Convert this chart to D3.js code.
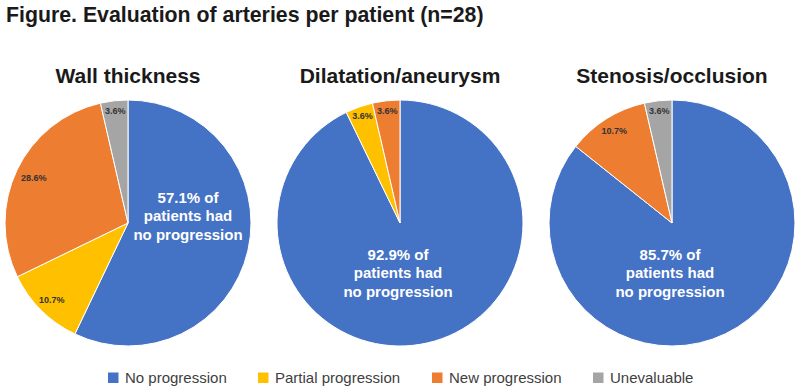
<!DOCTYPE html>
<html><head><meta charset="utf-8">
<script src="https://cdn.jsdelivr.net/npm/d3@7"></script>
<style>body{margin:0;background:#fff}svg{display:block}</style>
</head><body>
<script>
const categories = ["No progression", "Partial progression", "New progression", "Unevaluable"];
const colors = ["#4472C4", "#FFC000", "#ED7D31", "#A5A5A5"];
const panelTitles = ["Wall thickness", "Dilatation/aneurysm", "Stenosis/occlusion"];
const wallThickness = [57.1, 10.7, 28.6, 3.6];
const dilatation = [92.9, 3.6, 3.6, 0];
const stenosis = [85.7, 0, 10.7, 3.6];
const seriesValues = [wallThickness, dilatation, stenosis];
const centerLabels = [
  ["57.1% of", "patients had", "no progression"],
  ["92.9% of", "patients had", "no progression"],
  ["85.7% of", "patients had", "no progression"]
];

const W = 800, H = 390;
const svg = d3.select("body").append("svg").attr("width", W).attr("height", H);
const font = "Liberation Sans, Arial, sans-serif";

svg.append("text").attr("x", 6).attr("y", 22)
  .attr("font-family", font).attr("font-weight", "bold").attr("font-size", 21.3)
  .attr("fill", "#1a1a1a").text("Figure. Evaluation of arteries per patient (n=28)");

const cx = d3.scalePoint().domain(d3.range(3)).range([128, 672]);
const cy = 223, R = 123;
const centerOffsets = [[60, -2], [-2, 55], [-2, 55]];

const pie = d3.pie().sort(null).value(d => d.v);
const arc = d3.arc().innerRadius(0).outerRadius(R);

seriesValues.forEach((vals, i) => {
  const g = svg.append("g").attr("transform", `translate(${cx(i)},${cy})`);
  svg.append("text").attr("x", cx(i)).attr("y", 83).attr("text-anchor", "middle")
    .attr("font-family", font).attr("font-weight", "bold").attr("font-size", 21)
    .attr("fill", "#1a1a1a").text(panelTitles[i]);
  const data = vals.map((v, k) => ({v, k}));
  const arcs = pie(data);
  g.selectAll("path").data(arcs.filter(a => a.data.v > 0)).join("path")
    .attr("d", arc).attr("fill", a => colors[a.data.k])
    .attr("stroke", "#fff").attr("stroke-width", 1);
  arcs.filter(a => a.data.v > 0 && a.data.k > 0).forEach(a => {
    const frac = a.data.v > 20 ? 0.85 : (a.data.v > 8 ? 0.88 : 0.92);
    const la = d3.arc().innerRadius(R * frac).outerRadius(R * frac);
    const [x, y] = la.centroid(a);
    g.append("text").attr("x", x).attr("y", y + 3).attr("text-anchor", "middle")
      .attr("font-family", font).attr("font-weight", "bold").attr("font-size", 9)
      .attr("fill", "#333").text(a.data.v.toFixed(1) + "%");
  });
  const [ox, oy] = centerOffsets[i];
  const t = g.append("text").attr("text-anchor", "middle")
    .attr("font-family", font).attr("font-weight", "bold").attr("font-size", 15)
    .attr("fill", "#fff");
  centerLabels[i].forEach((line, j) => {
    t.append("tspan").attr("x", ox).attr("y", oy + (j - 1) * 18.5).text(line);
  });
});

const legendX = [108, 258, 432, 593];
categories.forEach((c, k) => {
  svg.append("rect").attr("x", legendX[k]).attr("y", 372.5).attr("width", 10.5).attr("height", 10.5)
    .attr("fill", colors[k]);
  svg.append("text").attr("x", legendX[k] + 17).attr("y", 383)
    .attr("font-family", font).attr("font-size", 15).attr("fill", "#404040").text(c);
});
</script>
</body></html>
